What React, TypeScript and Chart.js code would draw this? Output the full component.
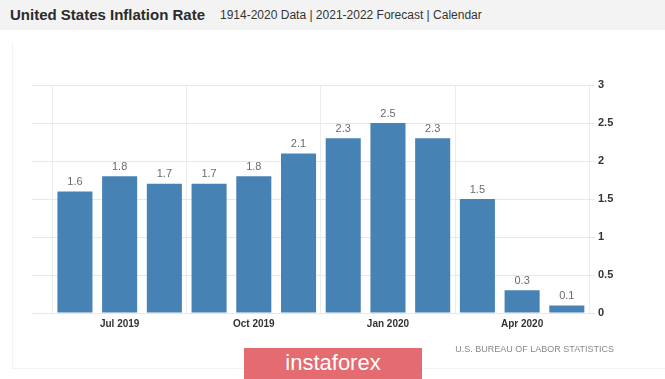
import React, { useEffect, useRef } from "react";
import { Chart, registerables } from "chart.js";

Chart.register(...registerables);

const months = ["Jun 2019", "Jul 2019", "Aug 2019", "Sep 2019", "Oct 2019", "Nov 2019", "Dec 2019", "Jan 2020", "Feb 2020", "Mar 2020", "Apr 2020", "May 2020"];
const inflation = [1.6, 1.8, 1.7, 1.7, 1.8, 2.1, 2.3, 2.5, 2.3, 1.5, 0.3, 0.1];
const xTickIndexes = [1, 4, 7, 10];
const yTicks = [0, 0.5, 1, 1.5, 2, 2.5, 3];

const barLabels = {
  id: "barLabels",
  afterDatasetsDraw(chart: any) {
    const ctx = chart.ctx;
    const meta = chart.getDatasetMeta(0);
    ctx.save();
    ctx.font = "11px 'Liberation Sans', Arial, sans-serif";
    ctx.fillStyle = "#6b6b6b";
    ctx.textAlign = "center";
    ctx.textBaseline = "bottom";
    meta.data.forEach((el: any, i: number) => {
      ctx.fillText(String(inflation[i]), el.x, el.y - 4);
    });
    ctx.restore();
  },
};

export default function App() {
  const ref = useRef<HTMLCanvasElement>(null);
  useEffect(() => {
    if (!ref.current) return;
    const chart = new Chart(ref.current, {
      type: "bar",
      data: {
        datasets: [
          {
            data: inflation.map((v, i) => ({ x: i, y: v })),
            backgroundColor: "#4682b4",
            borderWidth: 0,
            categoryPercentage: 0.8,
            barPercentage: 0.98,
          },
        ],
      },
      options: {
        animation: false,
        responsive: false,
        maintainAspectRatio: false,
        layout: { padding: { left: 32, top: 85, right: 0, bottom: 0 } },
        plugins: { legend: { display: false }, tooltip: { enabled: false } },
        scales: {
          x: {
            type: "linear",
            min: -0.96,
            max: 11.63,
            offset: false,
            afterBuildTicks: (scale: any) => {
              scale.ticks = xTickIndexes.map((v) => ({ value: v }));
            },
            afterFit: (scale: any) => {
              scale.height = 66;
            },
            ticks: {
              autoSkip: false,
              maxRotation: 0,
              padding: 5,
              color: "#333",
              font: { family: "'Liberation Sans', Arial, sans-serif", size: 10, weight: "bold" },
              callback: (v: any) => months[v] ?? "",
            },
            grid: { color: "#ececec", drawTicks: false, tickLength: 0 },
            border: { display: false },
          },
          y: {
            position: "right",
            min: 0,
            max: 3,
            afterBuildTicks: (scale: any) => {
              scale.ticks = yTicks.map((v) => ({ value: v }));
            },
            afterFit: (scale: any) => {
              scale.width = 70;
            },
            ticks: {
              padding: 3,
              color: "#333",
              font: { family: "'Liberation Sans', Arial, sans-serif", size: 11, weight: "bold" },
              callback: (v: any) => String(v),
            },
            grid: { color: "#e8e8e8", drawTicks: false, tickLength: 0 },
            border: { display: false },
          },
        },
      },
      plugins: [barLabels],
    });
    return () => chart.destroy();
  }, []);

  return (
    <div style={{ position: "absolute", left: 0, top: 0, width: 665, height: 379, background: "#fff", overflow: "hidden", fontFamily: "'Liberation Sans', Arial, sans-serif" }}>
      <div style={{ position: "absolute", left: 0, top: 0, width: 665, height: 30, background: "#f3f3f3" }} />
      <div style={{ position: "absolute", left: 10, top: 6, fontSize: 15, fontWeight: "bold", color: "#2b2b2b", whiteSpace: "nowrap" }}>
        United States Inflation Rate
      </div>
      <div style={{ position: "absolute", left: 220, top: 8, fontSize: 12, color: "#333", whiteSpace: "nowrap" }}>
        1914-2020 Data | 2021-2022 Forecast | Calendar
      </div>
      <div style={{ position: "absolute", left: 12, top: 42, width: 653, height: 326, borderLeft: "1px solid #f3f3f3", borderBottom: "1px solid #f3f3f3" }} />
      <canvas ref={ref} width={665} height={379} style={{ position: "absolute", left: 0, top: 0, width: 665, height: 379 }} />
      <div style={{ position: "absolute", right: 51, top: 344, fontSize: 9, color: "#888", whiteSpace: "nowrap" }}>
        U.S. BUREAU OF LABOR STATISTICS
      </div>
      <div style={{ position: "absolute", left: 244, top: 348, width: 178, height: 31, background: "#e46b70", color: "#fff", fontSize: 22, textAlign: "center", lineHeight: "30px" }}>
        instaforex
      </div>
    </div>
  );
}
